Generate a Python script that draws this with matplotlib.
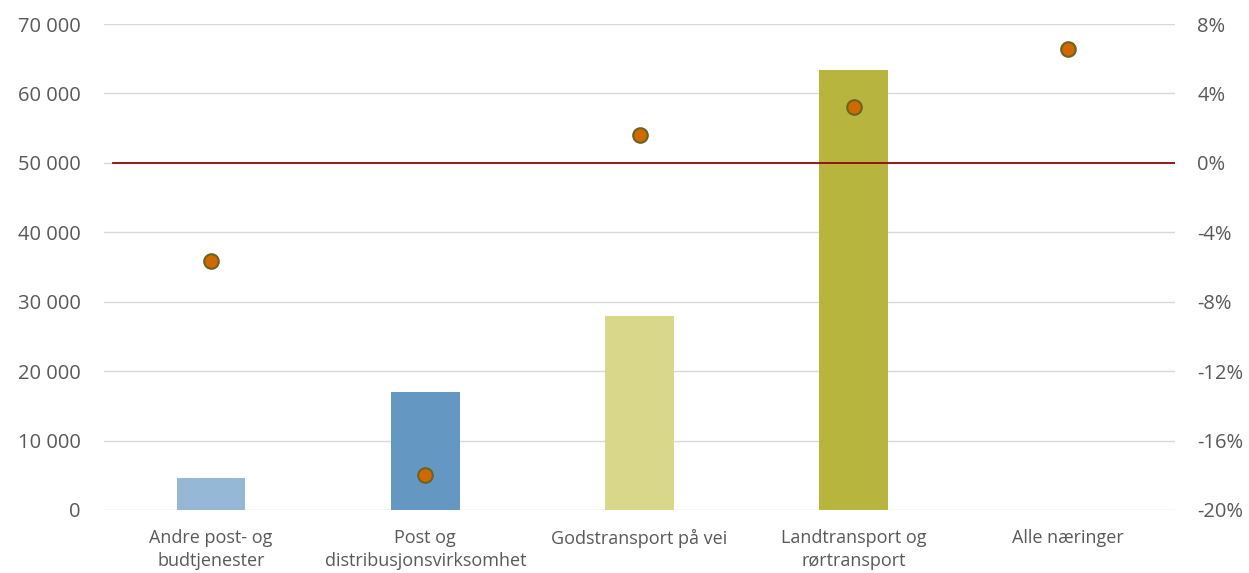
import matplotlib.pyplot as plt
from matplotlib.ticker import FuncFormatter

categories = ["Andre post- og\nbudtjenester", "Post og\ndistribusjonsvirksomhet",
              "Godstransport på vei", "Landtransport og\nrørtransport", "Alle næringer"]
employees = [4600, 17000, 28000, 63400, 0]
change_pct = [-5.65, -18.0, 1.6, 3.2, 6.55]
bar_colors = ["#95B8D7", "#6497C2", "#D9D88A", "#B7B53E", "#B7B53E"]

plt.rcParams["font.family"] = ["Open Sans", "DejaVu Sans"]
text_color = "#595959"
grid_color = "#D9D9D9"

fig = plt.figure(figsize=(12.49, 5.73), dpi=100)
ax = fig.add_axes([0.0833, 0.110, 0.8575, 0.848])
ax2 = ax.twinx()

x = list(range(len(categories)))
ax.bar(x, employees, width=0.32, color=bar_colors, zorder=2)
ax.set_xlim(-0.5, len(categories) - 0.5)
ax.set_ylim(0, 70000)
ax.set_yticks(range(0, 70001, 10000))
ax.yaxis.set_major_formatter(FuncFormatter(lambda v, p: f"{int(v):,}".replace(",", " ")))
ax.set_xticks(x)
ax.set_xticklabels(categories, fontsize=13, color=text_color, linespacing=1.3)
ax.grid(axis="y", color=grid_color, lw=1, zorder=0)
ax.set_axisbelow(True)

ax2.set_ylim(-20, 8)
ax2.set_yticks(range(-20, 9, 4))
ax2.yaxis.set_major_formatter(FuncFormatter(lambda v, p: f"{int(v)}%"))
ax2.axhline(0, xmin=0.008, xmax=1, color="#8B0A0A", lw=1.3, zorder=3)
ax2.scatter(x, change_pct, s=110, color="#D06A00", edgecolors="#6B6420",
            linewidths=1.5, zorder=4)

for a in (ax, ax2):
    for s in a.spines.values():
        s.set_visible(False)
    a.tick_params(axis="y", length=0, labelsize=14.5, labelcolor=text_color)
    a.tick_params(axis="x", length=0, pad=14)
ax.tick_params(axis="y", pad=17)
ax2.tick_params(axis="y", pad=16)

fig.savefig("out.png", dpi=100)
